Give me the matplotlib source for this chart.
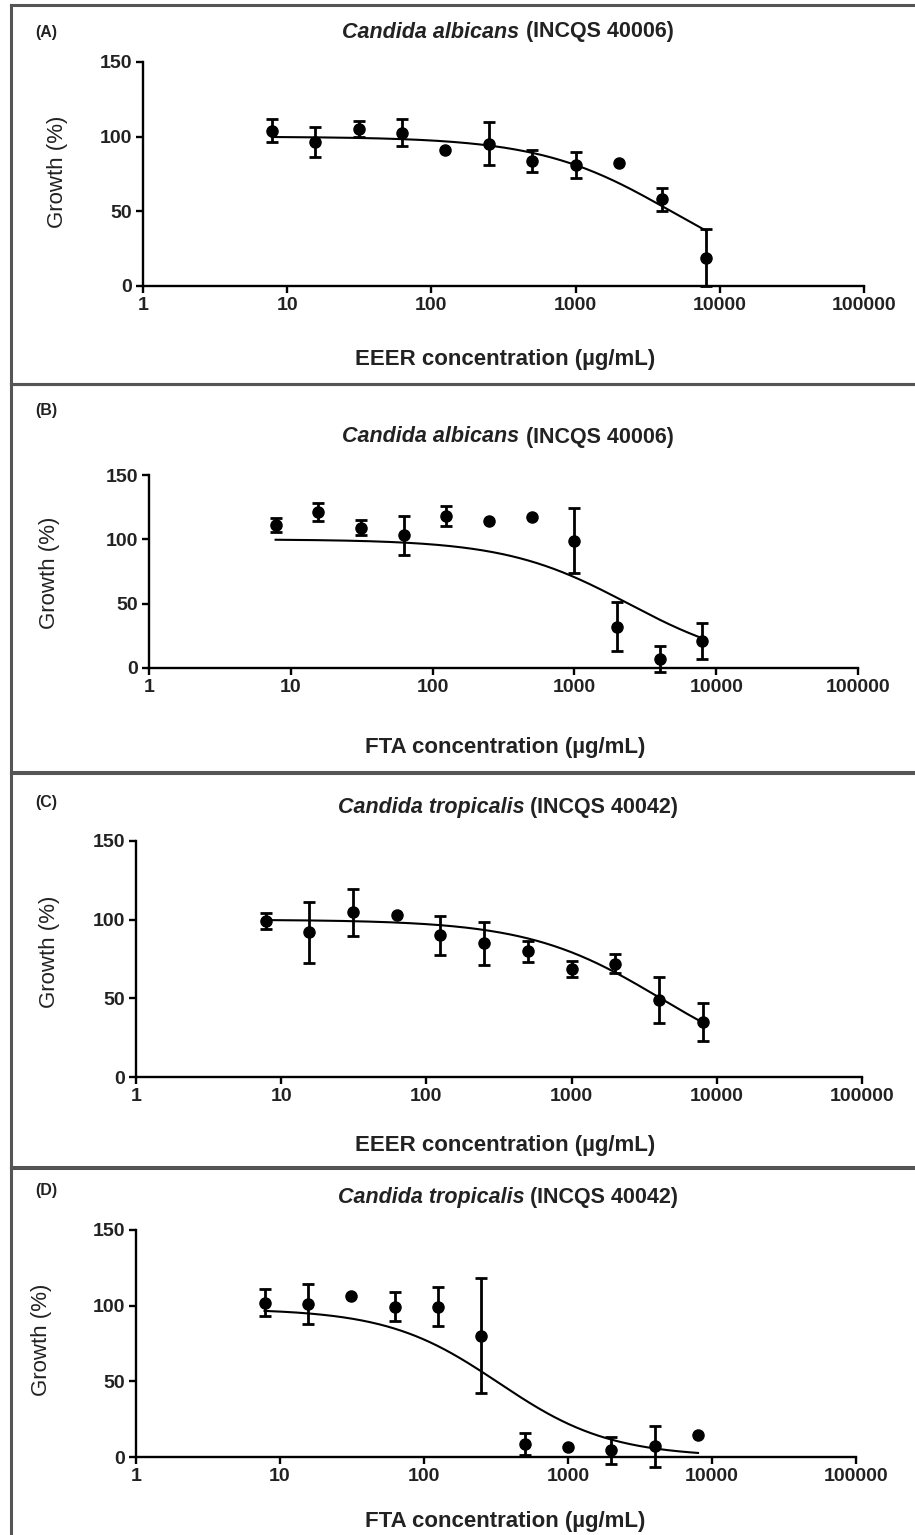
import numpy as np
import matplotlib
matplotlib.use('Agg')
import matplotlib.pyplot as plt
from matplotlib.lines import Line2D

plt.rcParams['font.family'] = ['Liberation Sans', 'DejaVu Sans']

# Two-fold dilution series (µg/mL), shared by all four panels.
concentrations = [7.8125, 15.625, 31.25, 62.5, 125, 250, 500, 1000, 2000, 4000, 8000]

# Panel A: C. albicans, EEER.
a_mean = [104, 96.5, 105, 102.7, 91, 95.4, 83.8, 81, 82.4, 58, 19]
a_sd = [7.7, 10, 5.3, 9, 0, 14.7, 7.5, 8.5, 0, 7.9, 19]
# Panel B: C. albicans, FTA.
b_mean = [111, 121, 109, 103, 118, 114, 117, 99, 32, 7, 21]
b_sd = [5.5, 7, 6, 15, 8, 0, 0, 25, 19, 10, 14]
# Panel C: C. tropicalis, EEER.
c_mean = [99, 92, 104.7, 103, 90, 85, 80, 68.5, 72, 49, 35]
c_sd = [5, 19.5, 15, 0, 12.3, 13.8, 6.7, 5, 6, 14.7, 12]
# Panel D: C. tropicalis, FTA.
d_mean = [102, 101, 106.5, 99.3, 99.3, 80, 8.6, 6.4, 4.4, 7, 14.8]
d_sd = [9, 13.2, 0, 9.6, 12.8, 38, 7.5, 0, 9, 13.5, 0]

# Fitted dose-response curves (top, IC50, Hill slope).
a_fit = (100, 4600, 0.95)
b_fit = (100, 2400, 1.0)
c_fit = (100, 4100, 0.95)
d_fit = (98, 330, 1.12)

panel_letters = ['(A)', '(B)', '(C)', '(D)']
species = ['Candida albicans', 'Candida albicans', 'Candida tropicalis', 'Candida tropicalis']
strains = ['(INCQS 40006)', '(INCQS 40006)', '(INCQS 40042)', '(INCQS 40042)']
x_labels = ['EEER concentration (µg/mL)', 'FTA concentration (µg/mL)',
            'EEER concentration (µg/mL)', 'FTA concentration (µg/mL)']
x_ticks = [1, 10, 100, 1000, 10000, 100000]
x_tick_labels = ['1', '10', '100', '1000', '10000', '100000']
y_ticks = [0, 50, 100, 150]

W, H = 915, 1535

# Pixel layout of each panel: axes box, frame box, text anchors.
layout = [
    dict(ax=(143, 864, 62, 286), frame=(11, 5, 384), letter=(35, 33), title=(508, 32), xlab=(505, 360), ylab=(58, 172)),
    dict(ax=(149, 858, 475, 668), frame=(11, 384, 772), letter=(35, 410), title=(508, 437), xlab=(505, 748), ylab=(50, 573)),
    dict(ax=(136, 862, 841, 1077), frame=(11, 773, 1167), letter=(35, 802), title=(508, 808), xlab=(505, 1145), ylab=(50, 952)),
    dict(ax=(136, 856, 1230, 1457), frame=(11, 1168, 1545), letter=(35, 1190), title=(508, 1197), xlab=(505, 1522), ylab=(42, 1340)),
]


def hill(x, top, ic50, slope):
    return top / (1 + (x / ic50) ** slope)


def fx(px):
    return px / W


def fy(py):
    return 1 - py / H


fig = plt.figure(figsize=(W / 100, H / 100), dpi=100)
fig.patch.set_facecolor('white')

means = [a_mean, b_mean, c_mean, d_mean]
sds = [a_sd, b_sd, c_sd, d_sd]
fits = [a_fit, b_fit, c_fit, d_fit]

for i, lay in enumerate(layout):
    left, right, top, bottom = lay['ax']
    ax = fig.add_axes([fx(left), fy(bottom), fx(right - left), (bottom - top) / H])
    ax.set_xscale('log')
    ax.set_xlim(1, 1e5)
    ax.set_ylim(0, 150)

    x = np.array(concentrations)
    m = np.array(means[i])
    s = np.array(sds[i], dtype=float)
    has_err = s > 0
    ax.errorbar(x[has_err], m[has_err], yerr=s[has_err], fmt='none', ecolor='black',
                elinewidth=2, capsize=4, capthick=2, clip_on=False, zorder=3)
    ax.plot(x, m, 'o', color='black', markersize=8, clip_on=False, zorder=4)

    xc = np.logspace(np.log10(x.min()), np.log10(x.max()), 300)
    ax.plot(xc, hill(xc, *fits[i]), color='black', linewidth=1.5, zorder=2)

    for side in ['top', 'right']:
        ax.spines[side].set_visible(False)
    for side in ['left', 'bottom']:
        ax.spines[side].set_linewidth(1.7)
    ax.set_xticks(x_ticks)
    ax.set_xticklabels(x_tick_labels)
    ax.xaxis.set_minor_locator(matplotlib.ticker.NullLocator())
    ax.set_yticks(y_ticks)
    ax.tick_params(axis='both', which='major', direction='out', length=5, width=1.7,
                   labelsize=14, pad=3)
    for lab in ax.get_xticklabels() + ax.get_yticklabels():
        lab.set_fontweight('bold')
        lab.set_color('#222222')

    # Frame around the panel.
    fl, ft, fb = lay['frame']
    frame_lines = [((fl, fl), (ft, fb)), ((fl, W), (ft, ft)), ((fl, W), (fb, fb))]
    for xs, ys in frame_lines:
        fig.add_artist(Line2D([fx(v) for v in xs], [fy(v) for v in ys],
                              color='#555555', linewidth=2.2))

    fig.text(fx(lay['letter'][0]), fy(lay['letter'][1]), panel_letters[i],
             fontsize=11.5, fontweight='bold', color='#222222', ha='left', va='center')

    tx, ty = lay['title']
    t1 = fig.text(fx(tx), fy(ty), species[i], fontsize=15.5, fontweight='bold',
                  fontstyle='italic', color='#222222', ha='left', va='center')
    t2 = fig.text(fx(tx), fy(ty), ' ' + strains[i], fontsize=15.5, fontweight='bold',
                  color='#222222', ha='left', va='center')
    renderer = fig.canvas.get_renderer()
    w1 = t1.get_window_extent(renderer).width
    w2 = t2.get_window_extent(renderer).width
    start = tx - (w1 + w2) / 2
    t1.set_x(fx(start))
    t2.set_x(fx(start + w1))

    fig.text(fx(lay['xlab'][0]), fy(lay['xlab'][1]), x_labels[i], fontsize=16,
             fontweight='bold', color='#222222', ha='center', va='center')
    fig.text(fx(lay['ylab'][0]), fy(lay['ylab'][1]), 'Growth (%)', fontsize=16,
             rotation=90, color='#222222', ha='center', va='center')

fig.savefig('out.png', dpi=100, facecolor='white')
